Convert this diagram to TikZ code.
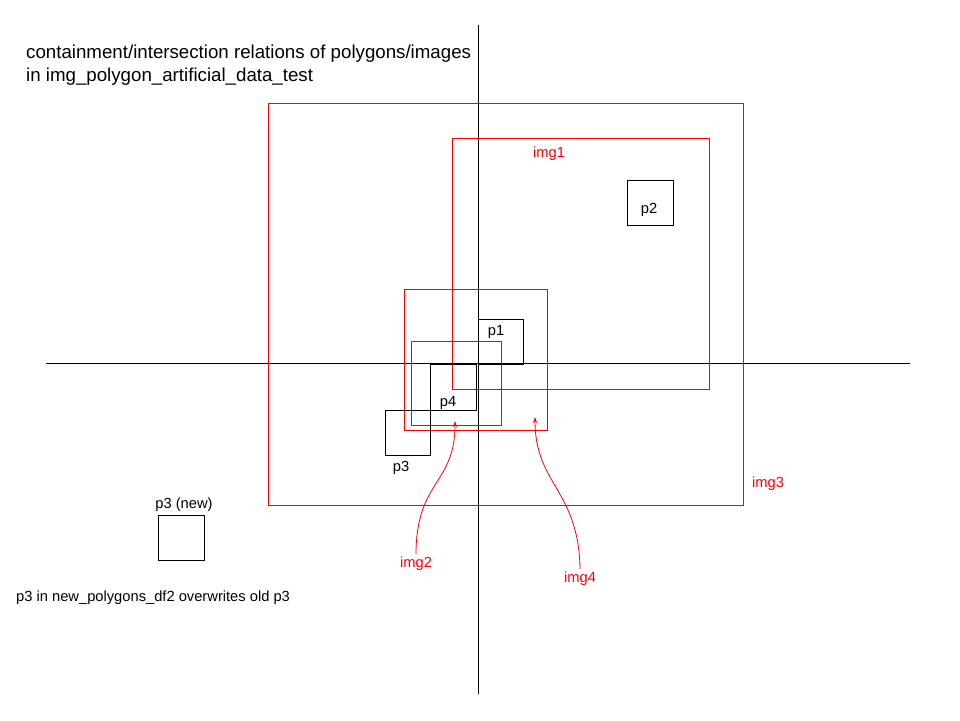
\documentclass[tikz,border=0pt]{standalone}
\usepackage{fontspec}
\setmainfont{Liberation Sans}
\usetikzlibrary{arrows.meta}
\begin{document}
\begin{tikzpicture}[x=1pt,y=-1pt,
  box/.style={draw=black, line width=1pt, inner sep=0pt, anchor=north west},
  rbox/.style={draw=red, line width=1pt, inner sep=0pt, anchor=north west},
  lbl/.style={font=\fontsize{14.7}{17}\selectfont, inner sep=0pt},
  rlbl/.style={lbl, text=red},
  titl/.style={font=\fontsize{18.7}{22}\selectfont, inner sep=0pt, anchor=base west},
  axisline/.style={line width=1pt, draw=black},
  rarrow/.style={draw=red, line width=0.8pt, -{Stealth[length=6pt,width=4pt]}}
]
\useasboundingbox (0,0) rectangle (960,720);
\fill[white] (0,0) rectangle (960,720);

% axes
\coordinate (vt) at (478,25);
\coordinate (vb) at (478,694);
\coordinate (hl) at (46,363);
\coordinate (hr) at (910,363);
\draw[axisline] (vt) -- (vb);
\draw[axisline] (hl) -- (hr);

% title
\node[titl] (t1) at (26,58) {containment/intersection relations of polygons/images};
\node[titl] (t2) at (26,81) {in img\_polygon\_artificial\_data\_test};

% image rectangles
\node[rbox, minimum width=475pt, minimum height=402pt] (img3) at (268,103) {};
\node[rbox, minimum width=257pt, minimum height=251pt] (img1) at (452,138) {};
\node[rbox, minimum width=143pt, minimum height=141pt] (img4) at (404,289) {};
\node[rbox, minimum width=90pt, minimum height=84pt] (img2) at (411,341) {};

% polygons
\node[box, minimum width=45pt, minimum height=45pt] (p1) at (478,319) {};
\node[box, minimum width=46pt, minimum height=46pt] (p4) at (430,364) {};
\node[box, minimum width=45pt, minimum height=45pt] (p3) at (385,410) {};
\node[box, minimum width=46pt, minimum height=45pt] (p2) at (627,180) {};
\node[box, minimum width=46pt, minimum height=45pt] (p3n) at (158,515) {};

% polygon labels
\node[lbl] (lp1) at (496,331.5) {p1};
\node[lbl] (lp4) at (448,402.5) {p4};
\node[lbl] (lp3) at (401,467.5) {p3};
\node[lbl] (lp2) at (649,209.5) {p2};
\node[lbl] (lp3n) at (184,504.5) {p3 (new)};
\node[lbl, anchor=west] (note) at (16,597.5) {p3 in new\_polygons\_df2 overwrites old p3};

% image labels
\node[rlbl] (limg1) at (549,153.5) {img1};
\node[rlbl] (limg3) at (768,483.5) {img3};
\node[rlbl, inner sep=2pt] (limg2) at (416,563.5) {img2};
\node[rlbl, inner sep=2pt] (limg4) at (580,578.5) {img4};

% arrows
\coordinate (tip2) at (455,421);
\coordinate (tip4) at (535,417);
\draw[rarrow] (limg2.north) .. controls (416,480) and (455,485) .. (tip2);
\draw[rarrow] (limg4.north) .. controls (579,490) and (535,485) .. (tip4);
\end{tikzpicture}
\end{document}
